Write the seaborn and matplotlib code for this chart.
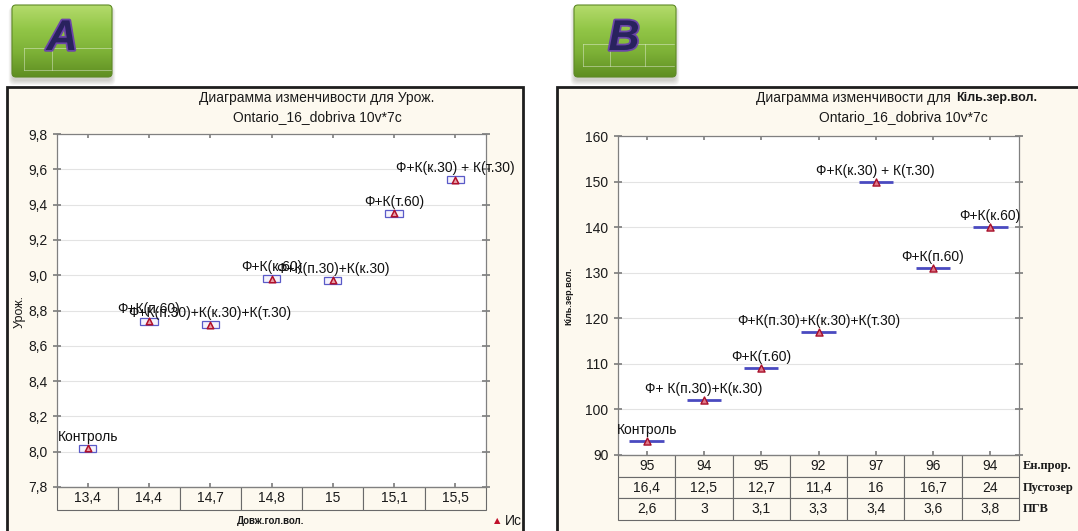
import numpy as np
import seaborn as sns
import matplotlib.pyplot as plt
import matplotlib.patheffects as pe
from matplotlib.patches import Rectangle, FancyBboxPatch
from matplotlib.colors import LinearSegmentedColormap
from matplotlib.ticker import MultipleLocator, FuncFormatter

# panel A: yield vs ear length
a_cats = ['13,4', '14,4', '14,7', '14,8', '15', '15,1', '15,5']
a_yield = [8.02, 8.74, 8.72, 8.98, 8.97, 9.35, 9.54]
a_se = [0.02, 0.02, 0.02, 0.02, 0.02, 0.02, 0.02]
a_names = ['Контроль', 'Ф+К(п.60)', 'Ф+К(п.30)+К(к.30)+К(т.30)', 'Ф+К(к.60)',
           'Ф+К(п.30)+К(к.30)', 'Ф+К(т.60)', 'Ф+К(к.30) + К(т.30)']

# panel B: grains per ear
b_names = ['Контроль', 'Ф+ К(п.30)+К(к.30)', 'Ф+К(т.60)', 'Ф+К(п.30)+К(к.30)+К(т.30)',
           'Ф+К(к.30) + К(т.30)', 'Ф+К(п.60)', 'Ф+К(к.60)']
b_grains = [93, 102, 109, 117, 150, 131, 140]
b_en = ['95', '94', '95', '92', '97', '96', '94']
b_empty = ['16,4', '12,5', '12,7', '11,4', '16', '16,7', '24']
b_pgv = ['2,6', '3', '3,1', '3,3', '3,4', '3,6', '3,8']
b_rows = ['Ен.прор.', 'Пустозер', 'ПГВ']

sns.set_theme(style='white')
plt.rcParams['font.family'] = ['Liberation Sans', 'DejaVu Sans']

W, H = 1078, 531
CREAM = '#FDF9EF'
fig = plt.figure(figsize=(W / 100, H / 100), dpi=100, facecolor='white')


def rect(x0, y0, x1, y1):
    return [x0 / W, 1 - y1 / H, (x1 - x0) / W, (y1 - y0) / H]


def frame(x0, y0, x1, y1):
    r = Rectangle((x0 / W, 1 - y1 / H), (x1 - x0) / W, (y1 - y0) / H,
                  transform=fig.transFigure, fc=CREAM, ec='#1E1E1E', lw=2, zorder=-5)
    fig.add_artist(r)
    return r


def badge(x0, y0, x1, y1, letter, lx, lines):
    ax = fig.add_axes(rect(x0 - 8, y0 - 4, x1 + 8, y1 + 10))
    ax.set_xlim(x0 - 8, x1 + 8)
    ax.set_ylim(y1 + 10, y0 - 4)
    ax.axis('off')
    for k in range(5):
        ax.add_patch(FancyBboxPatch((x0 - k * 0.8, y0 + 2), x1 - x0 + k * 1.6, y1 - y0 + 2 + k,
                                    boxstyle='round,pad=0,rounding_size=5',
                                    fc='#707060', ec='none', alpha=0.07))
    cmap = LinearSegmentedColormap.from_list('g', ['#B4DB6C', '#92C647', '#7CB036', '#5F8E22'])
    grad = np.linspace(0, 1, 200).reshape(-1, 1)
    im = ax.imshow(grad, extent=(x0, x1, y1, y0), cmap=cmap, aspect='auto', zorder=2)
    p = FancyBboxPatch((x0, y0), x1 - x0, y1 - y0, boxstyle='round,pad=0,rounding_size=4',
                       fc='none', ec='#5E8A26', lw=0.8, zorder=3)
    ax.add_patch(p)
    im.set_clip_path(p)
    for (xa, ya, xb, yb) in lines:
        ax.plot([xa, xb], [ya, yb], color='white', alpha=0.45, lw=0.6, zorder=4)
    ax.text(lx, (y0 + y1) / 2 - 2, letter, ha='center', va='center', fontsize=31,
            fontweight='bold', fontstyle='italic', color='#29225E', zorder=5,
            path_effects=[pe.withStroke(linewidth=2.5, foreground='#6B45A8')])


def style_axes(ax):
    ax.set_facecolor('white')
    for sp in ax.spines.values():
        sp.set_color('#808080')
        sp.set_linewidth(0.9)
    ax.grid(axis='y', color='#E3E3E3', lw=0.8)
    ax.set_axisbelow(True)
    ax.tick_params(axis='x', top=True, bottom=True, direction='in', length=3,
                   color='#808080', labelbottom=False)
    ax.tick_params(axis='y', left=True, right=True, direction='inout', length=6,
                   color='#808080', labelsize=10, labelcolor='#1A1A1A', pad=4)
    ax.set_xlim(-0.5, 6.5)
    ax.set_xlabel('')
    ax.set_ylabel('')


frame_a = frame(7, 87, 523, 545)
frame_b = frame(557, 87, 1090, 545)

badge(12, 5, 112, 77, 'A', 62,
      [(24, 48, 111, 48), (24, 48, 24, 70), (24, 70, 111, 70), (52, 48, 52, 70)])
badge(574, 5, 676, 77, 'B', 624,
      [(583, 44, 674, 44), (583, 44, 583, 66), (583, 66, 674, 66), (610, 44, 610, 66), (645, 44, 645, 66)])

# ---------- panel A ----------
ax_a = fig.add_axes(rect(57, 134, 486, 487))
pos = np.arange(len(a_cats))
for i, (y, se) in enumerate(zip(a_yield, a_se)):
    ax_a.add_patch(Rectangle((pos[i] - 0.14, y - se), 0.28, 2 * se, fc='#F5F3FC',
                             ec='#5A5AC8', lw=0.9, zorder=3))
sns.scatterplot(x=pos, y=a_yield, marker='^', s=22, color='#E8A0A8', edgecolor='#B0102A',
                linewidth=1.1, zorder=4, legend=False, ax=ax_a)
for i, (y, name) in enumerate(zip(a_yield, a_names)):
    ax_a.annotate(name, (pos[i], y), xytext=(0, 5.5), textcoords='offset points',
                  ha='center', va='baseline', fontsize=10, color='#111111',
                  annotation_clip=False, zorder=5)
style_axes(ax_a)
ax_a.set_ylim(7.8, 9.8)
ax_a.yaxis.set_major_locator(MultipleLocator(0.2))
ax_a.yaxis.set_major_formatter(FuncFormatter(lambda v, p: f'{v:.1f}'.replace('.', ',')))
ax_a.set_xticks(pos)

tab_a = ax_a.table(cellText=[a_cats], cellLoc='center', bbox=[0, -23 / 353, 1, 23 / 353])
tab_a.auto_set_font_size(False)
for cell in tab_a.get_celld().values():
    cell.set_facecolor(CREAM)
    cell.set_edgecolor('#6A6A6A')
    cell.set_linewidth(0.8)
    cell.get_text().set_fontsize(10)
    cell.get_text().set_color('#1A1A1A')

fig.text(317 / W, 1 - 98 / H, 'Диаграмма изменчивости для Урож.', ha='center', va='center',
         fontsize=10, color='#1A1A1A')
fig.text(317 / W, 1 - 117 / H, 'Ontario_16_dobriva 10v*7c', ha='center', va='center',
         fontsize=10, color='#1A1A1A')
fig.text(20 / W, 1 - 312 / H, 'Урож.', rotation=90, ha='center', va='center',
         fontsize=9, color='#1A1A1A')
fig.text(271 / W, 1 - 521 / H, 'Довж.гол.вол.', ha='center', va='center',
         fontsize=7, fontweight='bold', color='#1A1A1A')
fig.text(497 / W, 1 - 521 / H, '▲', ha='center', va='center', fontsize=6,
         color='#C0102A', family='DejaVu Sans')
leg = fig.text(505 / W, 1 - 521 / H, 'Ис', ha='left', va='center', fontsize=10,
               color='#1A1A1A')
leg.set_clip_path(frame_a)

# ---------- panel B ----------
ax_b = fig.add_axes(rect(618, 136, 1019, 455))
pos_b = np.arange(len(b_names))
ax_b.hlines(b_grains, pos_b - 0.3, pos_b + 0.3, color='#4A4AC0', lw=2, zorder=3)
sns.scatterplot(x=pos_b, y=b_grains, marker='^', s=26, color='#E07888', edgecolor='#A8102A',
                linewidth=1.0, zorder=4, legend=False, ax=ax_b)
for i, (y, name) in enumerate(zip(b_grains, b_names)):
    ax_b.annotate(name, (pos_b[i], y), xytext=(0, 5), textcoords='offset points',
                  ha='center', va='baseline', fontsize=10, color='#111111',
                  annotation_clip=False, zorder=5)
style_axes(ax_b)
ax_b.set_ylim(90, 160)
ax_b.yaxis.set_major_locator(MultipleLocator(10))
ax_b.yaxis.set_major_formatter(FuncFormatter(lambda v, p: f'{v:.0f}'))
ax_b.set_xticks(pos_b)

row_h = 65 / 319
tab_b = ax_b.table(cellText=[b_en, b_empty, b_pgv], cellLoc='center', bbox=[0, -row_h, 1, row_h])
tab_b.auto_set_font_size(False)
for cell in tab_b.get_celld().values():
    cell.set_facecolor(CREAM)
    cell.set_edgecolor('#6A6A6A')
    cell.set_linewidth(0.8)
    cell.get_text().set_fontsize(10)
    cell.get_text().set_color('#1A1A1A')
for j, lab in enumerate(b_rows):
    ax_b.text(1.01, -(j + 0.5) * row_h / 3, lab, transform=ax_b.transAxes, ha='left',
              va='center', fontsize=9, fontweight='bold', color='#1A1A1A',
              family=['Liberation Serif', 'DejaVu Serif'])

t1 = fig.text(756 / W, 1 - 98 / H, 'Диаграмма изменчивости для', ha='left', va='center',
              fontsize=10, color='#1A1A1A')
ax_b.annotate('Кіль.зер.вол.', xy=(1, 0.5), xycoords=t1, xytext=(4, 0),
              textcoords='offset points', ha='left', va='center', fontsize=9,
              fontweight='bold', color='#1A1A1A', annotation_clip=False)
fig.text(903 / W, 1 - 117 / H, 'Ontario_16_dobriva 10v*7c', ha='center', va='center',
         fontsize=10, color='#1A1A1A')
fig.text(569 / W, 1 - 296 / H, 'Кіль.зер.вол.', rotation=90, ha='center', va='center',
         fontsize=6.5, fontweight='bold', color='#1A1A1A')

fig.savefig('out.png', dpi=100, facecolor='white')
